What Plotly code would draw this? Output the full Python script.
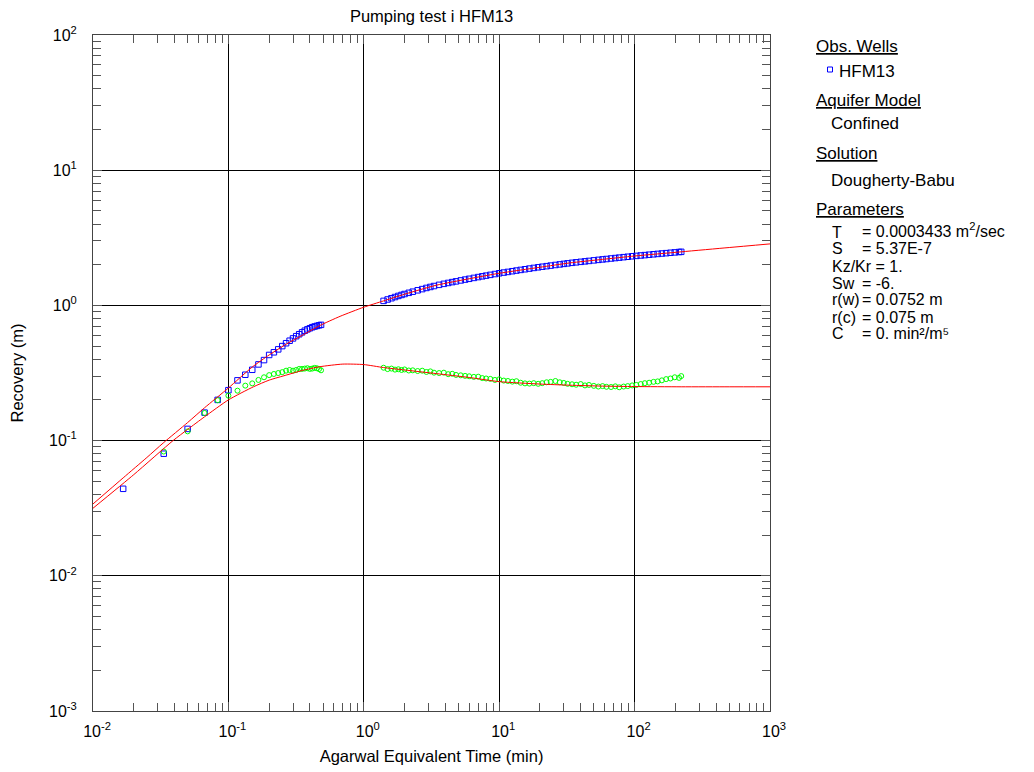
import plotly.graph_objects as go

# ---------------- data ----------------
t_early = [0.0167, 0.0333, 0.05, 0.0667, 0.0833, 0.1, 0.1167, 0.1333, 0.15, 0.1667,
           0.1833, 0.2, 0.2167, 0.2333, 0.25, 0.2667, 0.2833, 0.3, 0.3167, 0.3333,
           0.35, 0.3667, 0.3833, 0.4, 0.4167, 0.4333, 0.45, 0.4667, 0.4833]
rec_early = [0.044, 0.080, 0.122, 0.161, 0.200, 0.236, 0.279, 0.307, 0.334, 0.366,
             0.394, 0.430, 0.450, 0.473, 0.500, 0.525, 0.548, 0.570, 0.592, 0.612,
             0.632, 0.650, 0.665, 0.678, 0.690, 0.698, 0.705, 0.712, 0.718]

t_early_d = [0.0333, 0.05, 0.0667, 0.0833, 0.1, 0.1167, 0.1333, 0.15, 0.1667,
             0.1833, 0.2, 0.2167, 0.2333, 0.25, 0.2667, 0.2833, 0.3, 0.3167, 0.3333,
             0.35, 0.3667, 0.3833, 0.4, 0.4167, 0.4333, 0.45, 0.4667, 0.4833]
der_early = [0.083, 0.117, 0.160, 0.199, 0.215, 0.234, 0.255, 0.265, 0.281,
             0.294, 0.305, 0.311, 0.316, 0.321, 0.329, 0.333, 0.329, 0.333, 0.339,
             0.339, 0.341, 0.343, 0.339, 0.341, 0.345, 0.343, 0.338, 0.331]

t_late = [1.4, 1.5, 1.6, 1.7, 1.8, 1.9, 2.0, 2.15, 2.3, 2.5, 2.7, 2.9, 3.1, 3.3, 3.6,
          3.9, 4.2, 4.5, 4.8, 5.2, 5.6, 6.0, 6.5, 7.0, 7.5, 8.0, 8.6, 9.3, 10, 10.8,
          11.6, 12.5, 13.4, 14.4, 15.5, 16.7, 18, 19.4, 20.8, 22.4, 24, 26, 28, 30,
          32, 34.5, 37, 40, 43, 46, 50, 54, 58, 62, 67, 72, 77, 83, 89, 96, 103, 111,
          119, 128, 138, 148, 159, 171, 184, 198, 213, 221]
rec_late = [1.080, 1.106, 1.130, 1.153, 1.175, 1.195, 1.214, 1.239, 1.263, 1.293,
            1.320, 1.346, 1.369, 1.391, 1.419, 1.444, 1.466, 1.487, 1.506, 1.530,
            1.552, 1.573, 1.597, 1.620, 1.641, 1.660, 1.682, 1.706, 1.728, 1.749,
            1.769, 1.790, 1.810, 1.830, 1.851, 1.872, 1.893, 1.913, 1.932, 1.951,
            1.970, 1.991, 2.010, 2.029, 2.046, 2.065, 2.082, 2.100, 2.117, 2.133,
            2.153, 2.172, 2.189, 2.204, 2.223, 2.240, 2.256, 2.274, 2.290, 2.308,
            2.324, 2.340, 2.355, 2.371, 2.388, 2.403, 2.419, 2.434, 2.450, 2.466,
            2.482, 2.490]
der_late = [0.346, 0.338, 0.341, 0.335, 0.337, 0.333, 0.336, 0.330, 0.331, 0.327,
            0.329, 0.322, 0.325, 0.318, 0.316, 0.318, 0.310, 0.312, 0.306, 0.304,
            0.301, 0.299, 0.296, 0.297, 0.290, 0.288, 0.286, 0.281, 0.284, 0.278,
            0.276, 0.273, 0.275, 0.268, 0.265, 0.264, 0.266, 0.263, 0.266, 0.270,
            0.272, 0.276, 0.270, 0.267, 0.263, 0.261, 0.259, 0.262, 0.256, 0.258,
            0.254, 0.251, 0.253, 0.250, 0.249, 0.252, 0.248, 0.251, 0.253, 0.256,
            0.258, 0.262, 0.266, 0.268, 0.272, 0.274, 0.279, 0.285, 0.288, 0.294,
            0.291, 0.300]

t_model = [0.01, 0.0167, 0.025, 0.033, 0.05, 0.0667, 0.1, 0.15, 0.2, 0.27, 0.35,
           0.474, 0.668, 1.0, 1.4, 2.0, 3.43, 6.0, 10, 20, 33, 58, 100, 221, 500, 1000]
rec_model = [0.034, 0.053, 0.075, 0.096, 0.136, 0.175, 0.245, 0.350, 0.430, 0.520,
             0.600, 0.710, 0.830, 0.970, 1.080, 1.210, 1.410, 1.575, 1.728, 1.915,
             2.060, 2.190, 2.320, 2.490, 2.680, 2.850]

t_dmodel = [0.01, 0.02, 0.039, 0.05, 0.0667, 0.1, 0.153, 0.2, 0.27, 0.35, 0.474,
            0.7, 1.0, 1.4, 2.0, 3.43, 6.0, 10, 20, 33, 58, 100, 221, 500, 1000]
der_model = [0.0316, 0.056, 0.100, 0.121, 0.150, 0.200, 0.250, 0.280, 0.306, 0.330,
             0.352, 0.368, 0.365, 0.347, 0.333, 0.313, 0.293, 0.273, 0.262, 0.257,
             0.253, 0.251, 0.250, 0.250, 0.250]

x_tickvals = [0.01, 0.1, 1, 10, 100, 1000]
x_ticktext = ["10<sup>-2</sup>", "10<sup>-1</sup>", "10<sup>0</sup>", "10<sup>1</sup>",
              "10<sup>2</sup>", "10<sup>3</sup>"]
y_tickvals = [0.001, 0.01, 0.1, 1, 10, 100]
y_ticktext = ["10<sup>-3</sup>", "10<sup>-2</sup>", "10<sup>-1</sup>", "10<sup>0</sup>",
              "10<sup>1</sup>", "10<sup>2</sup>"]

# ---------------- figure ----------------
FONT = "Liberation Sans, Arial, sans-serif"
W, H = 1034, 772
OFF = 8  # page body margin
L, R, T, B = 93 - OFF, 770 - OFF, 35 - OFF, 711 - OFF

fig = go.Figure()
fig.add_trace(go.Scatter(x=t_early + t_late, y=rec_early + rec_late, mode="markers",
                         marker=dict(symbol="square-open", size=5.5, color="#0000FF",
                                     line=dict(width=1, color="#0000FF")),
                         name="HFM13", showlegend=False))
fig.add_trace(go.Scatter(x=t_early_d + t_late, y=der_early + der_late, mode="markers",
                         marker=dict(symbol="circle-open", size=5, color="#00FF00",
                                     line=dict(width=1, color="#00FF00")),
                         name="HFM13 derivative", showlegend=False))
fig.add_trace(go.Scatter(x=t_model, y=rec_model, mode="lines",
                         line=dict(color="#FF0000", width=1, shape="spline", smoothing=0.6),
                         showlegend=False))
fig.add_trace(go.Scatter(x=t_dmodel, y=der_model, mode="lines",
                         line=dict(color="#FF0000", width=1, shape="spline", smoothing=0.6),
                         showlegend=False))

x_minor = [m * 10.0 ** e for e in range(-2, 3) for m in range(2, 10)]
y_minor = [m * 10.0 ** e for e in range(-3, 2) for m in range(2, 10)]

axis_common = dict(type="log", showline=True, linecolor="#444444", linewidth=1,
                   mirror="ticks", ticks="inside", ticklen=9, tickcolor="#555555",
                   showgrid=True, gridcolor="#000000", gridwidth=1, zeroline=False,
                   tickfont=dict(family=FONT, size=16, color="#000000"),
                   tickmode="array")

fig.update_xaxes(**axis_common, range=[-2, 3], tickvals=x_tickvals, ticktext=x_ticktext,
                 ticklabelstandoff=6, ticklabelshift=4,
                 minor=dict(tickmode="array", tickvals=x_minor, ticks="inside", ticklen=8,
                            tickcolor="#555555", showgrid=False),
                 title=dict(text="Agarwal Equivalent Time (min)", standoff=11,
                            font=dict(family=FONT, size=16.5, color="#000000")))
fig.update_yaxes(**axis_common, range=[-3, 2], tickvals=y_tickvals, ticktext=y_ticktext,
                 ticklabelstandoff=12,
                 minor=dict(tickmode="array", tickvals=y_minor, ticks="inside", ticklen=8,
                            tickcolor="#555555", showgrid=False),
                 title=dict(text="Recovery (m)", standoff=22,
                            font=dict(family=FONT, size=16.5, color="#000000")))


def px(x):
    # screen x -> paper
    return (x - OFF - L) / (R - L)


def py(y):
    # screen y -> paper
    return (B - (y - OFF)) / (B - T)


annotations = []


def add_text(text, x, y, size=17):
    annotations.append(dict(text=text, x=px(x), y=py(y), xref="paper", yref="paper",
                            xanchor="left", yanchor="middle", showarrow=False,
                            font=dict(family=FONT, size=size, color="#000000")))


add_text("<u>Obs. Wells</u>", 814, 46)
add_text("HFM13", 837, 71)
add_text("<u>Aquifer Model</u>", 814, 100)
add_text("Confined", 829, 124)
add_text("<u>Solution</u>", 814, 154)
add_text("Dougherty-Babu", 829, 180)
add_text("<u>Parameters</u>", 814, 209)

param_names = ["T", "S", "Sw", "r(w)", "r(c)", "C"]
param_values = ["= 0.0003433 m<sup>2</sup>/sec", "= 5.37E-7", "= -6.", "= 0.0752 m",
                "= 0.075 m", "= 0. min²/m⁵"]
param_rows = [232, 249, 283, 300, 317, 333]
for n, v, yy in zip(param_names, param_values, param_rows):
    add_text(n, 830, yy, 16)
    add_text(v, 860, yy - (2 if "sup" in v else 0), 16)
add_text("Kz/Kr = 1.", 830, 266, 16)

shapes = [dict(type="rect", xref="paper", yref="paper",
               x0=px(827.5), x1=px(832.5), y0=py(72), y1=py(67),
               line=dict(color="#0000FF", width=1), fillcolor="rgba(0,0,0,0)")]

fig.update_layout(
    width=W, height=H,
    margin=dict(l=L, r=W - R, t=T, b=H - B, autoexpand=False),
    paper_bgcolor="#FFFFFF", plot_bgcolor="#FFFFFF",
    title=dict(text="Pumping test i HFM13", x=0.5, xref="paper", xanchor="center",
               y=1 - 8 / H, yref="container", yanchor="middle",
               font=dict(family=FONT, size=16.5, color="#000000")),
    annotations=annotations, shapes=shapes, showlegend=False,
)

fig.write_html("out.html")
